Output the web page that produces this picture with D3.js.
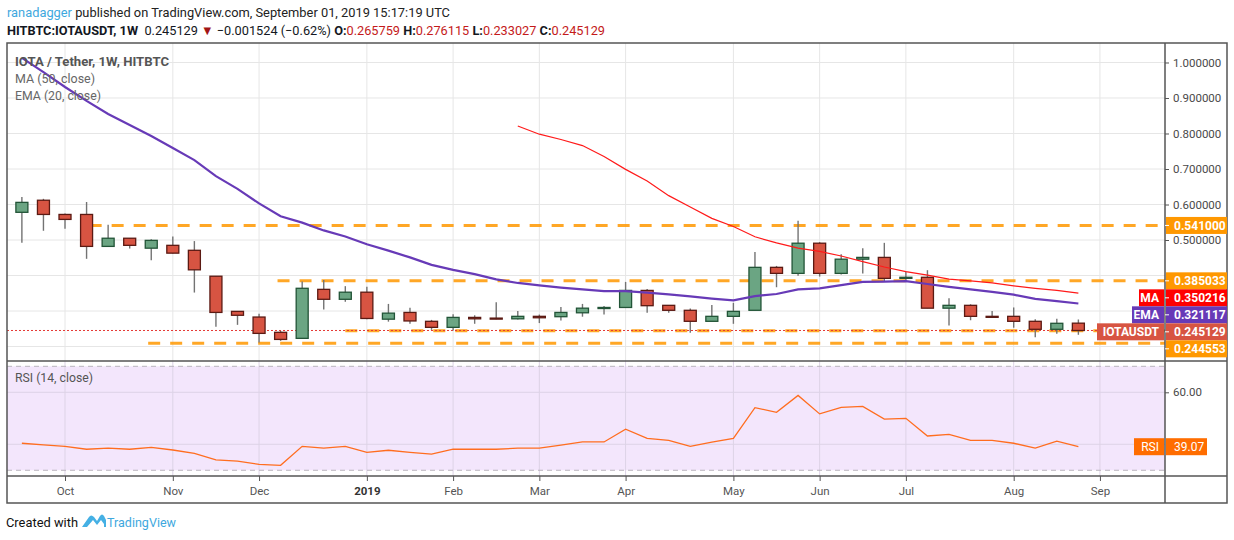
<!DOCTYPE html>
<html>
<head>
<meta charset="utf-8">
<script src="https://cdnjs.cloudflare.com/ajax/libs/d3/7.8.5/d3.min.js"></script>
<style>
body { margin: 0; background: #fff; }
svg text { font-family: Roboto, "Noto Sans", sans-serif; }
</style>
</head>
<body>
<div id="chart"></div>
<script>
// weekly candles, Sep 17 2018 -> Aug 26 2019
const weeks = d3.utcMonday.range(new Date(Date.UTC(2018, 8, 17)), new Date(Date.UTC(2019, 8, 1)));

const open  = [0.578, 0.612, 0.572, 0.572, 0.482, 0.505, 0.477, 0.485, 0.471, 0.398,
               0.299, 0.283, 0.240, 0.223, 0.361, 0.333, 0.353, 0.277, 0.296, 0.271,
               0.254, 0.282, 0.280, 0.278, 0.285, 0.284, 0.295, 0.307, 0.310, 0.358,
               0.316, 0.302, 0.271, 0.285, 0.302, 0.423, 0.406, 0.491, 0.406, 0.446,
               0.451, 0.392, 0.395, 0.308, 0.316, 0.285, 0.285, 0.271, 0.2485, 0.265759];
const high  = [0.621, 0.616, 0.575, 0.607, 0.543, 0.505, 0.502, 0.510, 0.497, 0.398,
               0.300, 0.292, 0.244, 0.383, 0.387, 0.370, 0.368, 0.320, 0.309, 0.275,
               0.291, 0.288, 0.325, 0.300, 0.290, 0.311, 0.320, 0.314, 0.382, 0.362,
               0.316, 0.307, 0.317, 0.323, 0.466, 0.427, 0.554, 0.494, 0.460, 0.477,
               0.492, 0.412, 0.415, 0.336, 0.319, 0.300, 0.310, 0.277, 0.278, 0.276115];
const low   = [0.492, 0.526, 0.532, 0.447, 0.482, 0.476, 0.443, 0.462, 0.352, 0.256,
               0.261, 0.211, 0.216, 0.223, 0.304, 0.326, 0.277, 0.270, 0.264, 0.247,
               0.245, 0.264, 0.277, 0.276, 0.266, 0.273, 0.284, 0.290, 0.310, 0.295,
               0.295, 0.239, 0.271, 0.264, 0.302, 0.367, 0.399, 0.397, 0.403, 0.406,
               0.383, 0.383, 0.308, 0.259, 0.274, 0.281, 0.253, 0.226, 0.236, 0.233027];
const close = [0.606, 0.572, 0.558, 0.482, 0.505, 0.485, 0.499, 0.463, 0.416, 0.296,
               0.288, 0.237, 0.220, 0.364, 0.333, 0.353, 0.279, 0.294, 0.272, 0.254,
               0.282, 0.278, 0.278, 0.285, 0.281, 0.296, 0.308, 0.310, 0.358, 0.315,
               0.302, 0.271, 0.285, 0.299, 0.423, 0.406, 0.491, 0.406, 0.446, 0.451,
               0.392, 0.395, 0.308, 0.316, 0.285, 0.283, 0.271, 0.2485, 0.2654, 0.245129];

// MA(50) only exists from the 24th week on
const ma50 = [null, null, null, null, null, null, null, null, null, null,
              null, null, null, null, null, null, null, null, null, null,
              null, null, null, 0.821, 0.798, 0.783, 0.766, 0.735, 0.699, 0.666,
              0.625, 0.593, 0.561, 0.538, 0.509, 0.492, 0.477, 0.468, 0.455, 0.439,
              0.424, 0.411, 0.401, 0.390, 0.385, 0.379, 0.371, 0.364, 0.358, 0.350216];
const ema20 = [1.013, 0.973, 0.931, 0.892, 0.855, 0.824, 0.793, 0.759, 0.725, 0.680,
               0.644, 0.603, 0.567, 0.549, 0.527, 0.510, 0.488, 0.470, 0.451, 0.430,
               0.416, 0.404, 0.389, 0.379, 0.372, 0.366, 0.361, 0.356, 0.356, 0.352,
               0.347, 0.341, 0.335, 0.330, 0.342, 0.348, 0.361, 0.364, 0.373, 0.382,
               0.383, 0.384, 0.376, 0.368, 0.361, 0.354, 0.346, 0.334, 0.328, 0.321117];
const rsi = [40.4, 39.8, 39.2, 38.1, 38.5, 38.1, 38.8, 37.8, 36.5, 34.0,
             33.5, 32.3, 31.9, 39.2, 38.5, 39.2, 36.9, 37.7, 36.9, 36.2,
             38.1, 38.1, 38.1, 38.5, 38.5, 39.7, 40.9, 40.9, 45.8, 42.3,
             41.5, 39.2, 40.8, 42.3, 54.1, 52.3, 58.8, 51.7, 54.2, 54.6,
             49.7, 50.0, 43.2, 43.8, 41.5, 41.5, 40.4, 38.5, 41.2, 39.07];

const monthTicks = ['2018-10-01', '2018-11-05', '2018-12-03', '2019-01-07', '2019-02-04', '2019-03-04',
                    '2019-04-01', '2019-05-06', '2019-06-03', '2019-07-01', '2019-08-05', '2019-09-02'];
const monthLabels = ['Oct', 'Nov', 'Dec', '2019', 'Feb', 'Mar', 'Apr', 'May', 'Jun', 'Jul', 'Aug', 'Sep'];

const priceTicks = [0.5, 0.6, 0.7, 0.8, 0.9, 1.0];
const priceGrid = [0.2, 0.3, 0.4, 0.5, 0.6, 0.7, 0.8, 0.9, 1.0];

// horizontal levels drawn by the author
const levelValues = [0.541, 0.385033, 0.244553, 0.209];
const levelStarts = ['2018-10-09', '2018-12-09', '2018-12-31', '2018-10-28'];
const levelLabels = ['0.541000', '0.385033', '0.244553', null];

const frame = { left: 7, right: 1165, outer: 1227, top: 43, mainBottom: 361, rsiBottom: 476, bottom: 503 };

const svg = d3.select('#chart')
    .append('svg')
    .attr('width', 1234)
    .attr('height', 540);

const x = d3.scaleUtc()
    .domain([new Date(Date.UTC(2018, 8, 12, 4)), new Date(Date.UTC(2019, 8, 23, 3))])
    .range([frame.left, frame.right]);
const y = d3.scaleLinear().domain([0.1592, 1.0549]).range([frame.mainBottom, frame.top]);
const yRsi = d3.scaleLinear().domain([27.8, 72.04]).range([frame.rsiBottom, frame.mainBottom]);

const tickDates = monthTicks.map(d => new Date(d + 'T00:00:00Z'));

// header
const head1 = svg.append('text')
    .attr('x', 7).attr('y', 17)
    .attr('font-size', 13)
    .attr('textLength', 443).attr('lengthAdjust', 'spacingAndGlyphs')
    .style('white-space', 'pre');
head1.append('tspan').attr('fill', '#3ea8de').text('ranadagger');
head1.append('tspan').attr('fill', '#222').text(' published on TradingView.com, September 01, 2019 15:17:19 UTC');

const head2 = svg.append('text')
    .attr('x', 7).attr('y', 35)
    .attr('font-size', 13)
    .attr('fill', '#131722')
    .attr('textLength', 598).attr('lengthAdjust', 'spacingAndGlyphs')
    .style('white-space', 'pre');
head2.append('tspan').attr('font-weight', 'bold').text('HITBTC:IOTAUSDT, 1W');
head2.append('tspan').text('  0.245129 ');
head2.append('tspan').attr('fill', '#a31515').text('▼');
head2.append('tspan').text(' \u22120.001524 (\u22120.62%) ');
[['O:', '0.265759'], ['H:', '0.276115'], ['L:', '0.233027'], ['C:', '0.245129']].forEach(([k, v], i) => {
    head2.append('tspan').attr('font-weight', 'bold').text((i ? ' ' : '') + k);
    head2.append('tspan').attr('fill', '#c41a1a').text(v);
});

// panes
svg.append('rect')
    .attr('x', frame.left).attr('y', yRsi(70))
    .attr('width', frame.right - frame.left).attr('height', yRsi(30) - yRsi(70))
    .attr('fill', '#f3e6fc');

const grid = svg.append('g');
tickDates.forEach(d => {
    grid.append('line')
        .attr('x1', x(d)).attr('x2', x(d))
        .attr('y1', frame.top).attr('y2', frame.mainBottom)
        .attr('stroke', '#e6e6e6');
    grid.append('line')
        .attr('x1', x(d)).attr('x2', x(d))
        .attr('y1', frame.mainBottom).attr('y2', frame.rsiBottom)
        .attr('stroke', '#ddd3e6');
});
priceGrid.forEach(v => {
    grid.append('line')
        .attr('x1', frame.left).attr('x2', frame.right)
        .attr('y1', y(v)).attr('y2', y(v))
        .attr('stroke', '#e6e6e6');
});
[60, 40].forEach(v => {
    grid.append('line')
        .attr('x1', frame.left).attr('x2', frame.right)
        .attr('y1', yRsi(v)).attr('y2', yRsi(v))
        .attr('stroke', '#ddd3e6');
});
[70, 30].forEach(v => {
    grid.append('line')
        .attr('x1', frame.left).attr('x2', frame.right)
        .attr('y1', yRsi(v)).attr('y2', yRsi(v))
        .attr('stroke', '#b9b4bd')
        .attr('stroke-dasharray', '5,4');
});

// levels
levelValues.forEach((v, i) => {
    svg.append('line')
        .attr('x1', x(new Date(levelStarts[i] + 'T00:00:00Z'))).attr('x2', frame.right)
        .attr('y1', y(v)).attr('y2', y(v))
        .attr('stroke', '#ff9800')
        .attr('stroke-opacity', 0.85)
        .attr('stroke-width', 3)
        .attr('stroke-dasharray', '12,10');
});

// last price line
svg.append('line')
    .attr('x1', frame.left).attr('x2', frame.right)
    .attr('y1', y(close[close.length - 1])).attr('y2', y(close[close.length - 1]))
    .attr('stroke', '#e53935')
    .attr('stroke-dasharray', '2,2');

// candles
const candles = svg.append('g').selectAll('g')
    .data(weeks)
    .enter()
    .append('g');

candles.append('line')
    .attr('x1', d => x(d)).attr('x2', d => x(d))
    .attr('y1', (d, i) => y(high[i])).attr('y2', (d, i) => y(low[i]))
    .attr('stroke', '#737373')
    .attr('stroke-width', 1.4);

candles.append('rect')
    .attr('x', d => x(d) - 6)
    .attr('width', 12)
    .attr('y', (d, i) => y(Math.max(open[i], close[i])))
    .attr('height', (d, i) => Math.max(1, Math.abs(y(open[i]) - y(close[i]))))
    .attr('fill', (d, i) => close[i] >= open[i] ? '#6ba583' : '#d75442')
    .attr('stroke', (d, i) => close[i] >= open[i] ? '#225437' : '#5b1a13')
    .attr('stroke-width', 1.3);

// moving averages
const maLine = d3.line()
    .defined(d => d[1] != null)
    .x(d => x(d[0]))
    .y(d => y(d[1]));

svg.append('path')
    .attr('d', maLine(weeks.map((d, i) => [d, ma50[i]])))
    .attr('fill', 'none')
    .attr('stroke', '#ff1a1a')
    .attr('stroke-width', 1.2);

svg.append('path')
    .attr('d', maLine(weeks.map((d, i) => [d, ema20[i]])))
    .attr('fill', 'none')
    .attr('stroke', '#673ab7')
    .attr('stroke-width', 2.2);

// RSI
svg.append('path')
    .attr('d', d3.line().x(d => x(d[0])).y(d => yRsi(d[1]))(weeks.map((d, i) => [d, rsi[i]])))
    .attr('fill', 'none')
    .attr('stroke', '#ff6d1f')
    .attr('stroke-width', 1.3);

// frame
svg.append('rect')
    .attr('x', frame.left).attr('y', frame.top)
    .attr('width', frame.outer - frame.left).attr('height', frame.bottom - frame.top)
    .attr('fill', 'none').attr('stroke', '#555').attr('stroke-width', 1.5);
[frame.mainBottom, frame.rsiBottom].forEach(v => {
    svg.append('line')
        .attr('x1', frame.left).attr('x2', frame.outer)
        .attr('y1', v).attr('y2', v)
        .attr('stroke', '#555').attr('stroke-width', 1.5);
});
svg.append('line')
    .attr('x1', frame.right).attr('x2', frame.right)
    .attr('y1', frame.top).attr('y2', frame.bottom)
    .attr('stroke', '#555').attr('stroke-width', 1.5);

// axes
const yAxis = svg.append('g')
    .attr('transform', `translate(${frame.right}, 0)`)
    .call(d3.axisRight(y).tickValues(priceTicks).tickFormat(d3.format('.6f')).tickSize(4).tickPadding(4));
const rsiAxis = svg.append('g')
    .attr('transform', `translate(${frame.right}, 0)`)
    .call(d3.axisRight(yRsi).tickValues([60]).tickFormat(d3.format('.2f')).tickSize(4).tickPadding(4));
const xAxis = svg.append('g')
    .attr('transform', `translate(0, ${frame.rsiBottom})`)
    .call(d3.axisBottom(x).tickValues(tickDates).tickFormat((d, i) => monthLabels[i]).tickSize(5).tickPadding(6));

[yAxis, rsiAxis, xAxis].forEach(a => {
    a.select('.domain').remove();
    a.selectAll('line').attr('stroke', '#555');
    a.selectAll('text')
        .attr('fill', '#4a4a4a')
        .attr('font-size', 11.5)
        .attr('font-family', 'Roboto, sans-serif');
});
xAxis.selectAll('text')
    .attr('font-weight', (d, i) => monthLabels[i] === '2019' ? 'bold' : 'normal')
    .attr('fill', (d, i) => monthLabels[i] === '2019' ? '#333' : '#555');

// price tags on the right axis, pushed apart where they collide
const tags = [
    { v: levelValues[0], text: levelLabels[0], color: '#ff9800' },
    { v: levelValues[1], text: levelLabels[1], color: '#ff9800' },
    { v: ma50[ma50.length - 1], text: '0.350216', color: '#ff0000', name: 'MA' },
    { v: ema20[ema20.length - 1], text: '0.321117', color: '#673ab7', name: 'EMA' },
    { v: close[close.length - 1], text: '0.245129', color: '#d75442', name: 'IOTAUSDT' },
    { v: levelValues[2], text: levelLabels[2], color: '#ff9800' }
];
let prevY = -Infinity;
tags.forEach(t => {
    t.y = Math.max(y(t.v), prevY + 17);
    prevY = t.y;
    svg.append('rect')
        .attr('x', frame.right + 1).attr('y', t.y - 8.5)
        .attr('width', frame.outer - frame.right - 1).attr('height', 17)
        .attr('fill', t.color);
    svg.append('line')
        .attr('x1', frame.right).attr('x2', frame.right + 4)
        .attr('y1', t.y).attr('y2', t.y)
        .attr('stroke', '#fff');
    svg.append('text')
        .attr('x', frame.right + 9).attr('y', t.y + 4.5)
        .attr('fill', '#fff').attr('font-size', 12).attr('font-weight', 'bold')
        .text(t.text);
    if (t.name) {
        const w = t.name.length * 7 + 12;
        svg.append('rect')
            .attr('x', frame.right - w).attr('y', t.y - 8.5)
            .attr('width', w - 1).attr('height', 17)
            .attr('fill', t.color);
        svg.append('text')
            .attr('x', frame.right - 6).attr('y', t.y + 4.5)
            .attr('text-anchor', 'end')
            .attr('fill', '#fff').attr('font-size', 12).attr('font-weight', 'bold')
            .text(t.name);
    }
});

// RSI tag
const rsiY = yRsi(rsi[rsi.length - 1]);
svg.append('rect')
    .attr('x', frame.right - 31).attr('y', rsiY - 8.5)
    .attr('width', 30).attr('height', 17).attr('fill', '#ff6d00');
svg.append('text')
    .attr('x', frame.right - 6).attr('y', rsiY + 4.5).attr('text-anchor', 'end')
    .attr('fill', '#fff').attr('font-size', 12).text('RSI');
svg.append('rect')
    .attr('x', frame.right + 1).attr('y', rsiY - 8.5)
    .attr('width', 41).attr('height', 17).attr('fill', '#ff6d00');
svg.append('text')
    .attr('x', frame.right + 9).attr('y', rsiY + 4.5)
    .attr('fill', '#fff').attr('font-size', 12).text('39.07');

// legends
svg.append('text')
    .attr('x', 15).attr('y', 66)
    .attr('font-size', 13).attr('font-weight', 'bold').attr('fill', '#555')
    .attr('textLength', 154).attr('lengthAdjust', 'spacingAndGlyphs')
    .text('IOTA / Tether, 1W, HITBTC');
svg.append('text')
    .attr('x', 15).attr('y', 83)
    .attr('font-size', 13).attr('fill', '#666')
    .attr('textLength', 80).attr('lengthAdjust', 'spacingAndGlyphs')
    .text('MA (50, close)');
svg.append('text')
    .attr('x', 15).attr('y', 100)
    .attr('font-size', 13).attr('fill', '#666')
    .attr('textLength', 86).attr('lengthAdjust', 'spacingAndGlyphs')
    .text('EMA (20, close)');
svg.append('text')
    .attr('x', 15).attr('y', 382)
    .attr('font-size', 13).attr('fill', '#555')
    .attr('textLength', 78).attr('lengthAdjust', 'spacingAndGlyphs')
    .text('RSI (14, close)');

// footer
svg.append('text')
    .attr('x', 6).attr('y', 527)
    .attr('font-size', 13).attr('fill', '#111')
    .attr('textLength', 72).attr('lengthAdjust', 'spacingAndGlyphs')
    .text('Created with');
svg.append('path')
    .attr('d', 'M82,527 L89,517 Q91,514 94,517 L97,521 L100,516 Q102,513 104,516 L106,520 L106,527 Z M87,527 L93,520 L97,525 L101,520 L104,524 L104,527 Z')
    .attr('fill', '#45b0e4')
    .attr('fill-rule', 'evenodd');
svg.append('text')
    .attr('x', 107).attr('y', 527)
    .attr('font-size', 13).attr('fill', '#3ea8de')
    .attr('textLength', 69).attr('lengthAdjust', 'spacingAndGlyphs')
    .text('TradingView');
</script>
</body>
</html>
